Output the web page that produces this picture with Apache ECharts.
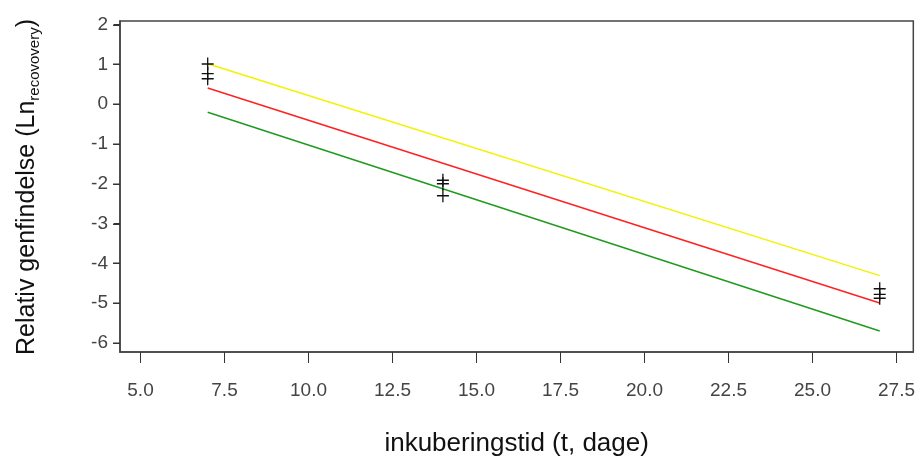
<!DOCTYPE html>
<html>
<head>
<meta charset="utf-8">
<script src="https://cdn.jsdelivr.net/npm/echarts@6/dist/echarts.min.js"></script>
<style>
  html, body { margin: 0; padding: 0; background: #fff; }
  #chart { width: 918px; height: 468px; }
</style>
</head>
<body>
<div id="chart"></div>
<script>
// målepunkter (t, ln recovery)
const obsT = [7, 7, 7, 14, 14, 14, 27, 27, 27]
const obsLn = [1.01, 0.77, 0.64, -1.91, -2.0, -2.3, -4.64, -4.78, -4.88]

// regressionslinjer
const lineT = [7, 27]
const upperLn = [1.02, -4.31]
const fitLn = [0.41, -5.0]
const lowerLn = [-0.2, -5.7]

// akser
const xTicks = [5, 7.5, 10, 12.5, 15, 17.5, 20, 22.5, 25, 27.5]
const yTicks = [-6, -5, -4, -3, -2, -1, 0, 1, 2]

const pair = (xs, ys) => xs.map((x, i) => [x, ys[i]])

const xMin = 4.39, xMax = 28.0
const yMin = -6.23, yMax = 2.093

const font = 'Liberation Sans, Arial, sans-serif'
const chart = echarts.init(document.getElementById('chart'), null, { renderer: 'canvas' })

const lineSeries = (data, color) => ({
  type: 'line',
  data: data,
  showSymbol: false,
  silent: true,
  lineStyle: { color: color, width: 1.5 },
  z: 2,
})

const yTitle = {
  id: 'ytitle',
  type: 'text',
  x: 27, y: 187,
  rotation: Math.PI / 2,
  style: {
    text: '{a|Relativ genfindelse (Ln}{s|recovovery}{a|)}',
    align: 'center', verticalAlign: 'middle',
    rich: {
      a: { fontSize: 25, fontFamily: font, fill: '#111', lineHeight: 30, verticalAlign: 'middle' },
      s: { fontSize: 15, fontFamily: font, fill: '#111', lineHeight: 30, verticalAlign: 'bottom', padding: [12, 0, 0, 0] },
    },
  },
}

chart.setOption({
  animation: false,
  backgroundColor: '#fff',
  grid: {
    left: 120, right: 2, top: 21, bottom: 116,
    show: true, borderColor: '#444', borderWidth: 1.5,
  },
  xAxis: {
    type: 'value',
    min: xMin, max: xMax,
    axisLine: { show: true, onZero: false, lineStyle: { color: '#444', width: 1.5 } },
    splitLine: { show: false },
    axisTick: { show: true, length: 11, customValues: xTicks, lineStyle: { color: '#333', width: 1 } },
    axisLabel: {
      customValues: xTicks, margin: 29,
      color: '#444', fontSize: 19, fontFamily: font,
      formatter: v => v.toFixed(1),
    },
    name: 'inkuberingstid (t, dage)',
    nameLocation: 'middle',
    nameGap: 79,
    nameTextStyle: { color: '#111', fontSize: 26, fontFamily: font },
  },
  yAxis: {
    type: 'value',
    min: yMin, max: yMax,
    axisLine: { show: true, onZero: false, lineStyle: { color: '#444', width: 1.5 } },
    splitLine: { show: false },
    axisTick: { show: true, length: 6, customValues: yTicks, lineStyle: { color: '#333', width: 1 } },
    axisLabel: {
      customValues: yTicks, margin: 12,
      color: '#444', fontSize: 19, fontFamily: font,
      formatter: v => String(v),
    },
  },
  graphic: [yTitle],
  series: [
    lineSeries(pair(lineT, upperLn), '#f2f200'),
    lineSeries(pair(lineT, fitLn), '#ff2020'),
    lineSeries(pair(lineT, lowerLn), '#1f9a1f'),
    {
      type: 'scatter',
      data: pair(obsT, obsLn),
      symbol: 'path://M5.35,0h1.3v5.35h5.35v1.3h-5.35v5.35h-1.3v-5.35h-5.35v-1.3h5.35z',
      symbolSize: [12, 13],
      itemStyle: { color: '#111', opacity: 1 },
      z: 3,
    },
  ],
})

// y-aksens tick-streger som udfyldte rektangler, placeret via aksens skala
const tickRects = yTicks.map((v, i) => {
  const p = chart.convertToPixel({ xAxisIndex: 0, yAxisIndex: 0 }, [xMin, v])
  return {
    id: 'ytick' + i,
    type: 'rect',
    shape: { x: p[0] - 7, y: Math.round(p[1]) - 0.5, width: 7, height: 1.5 },
    style: { fill: '#333' },
    z: 100,
    silent: true,
  }
})
chart.setOption({ graphic: [yTitle].concat(tickRects) })
</script>
</body>
</html>
